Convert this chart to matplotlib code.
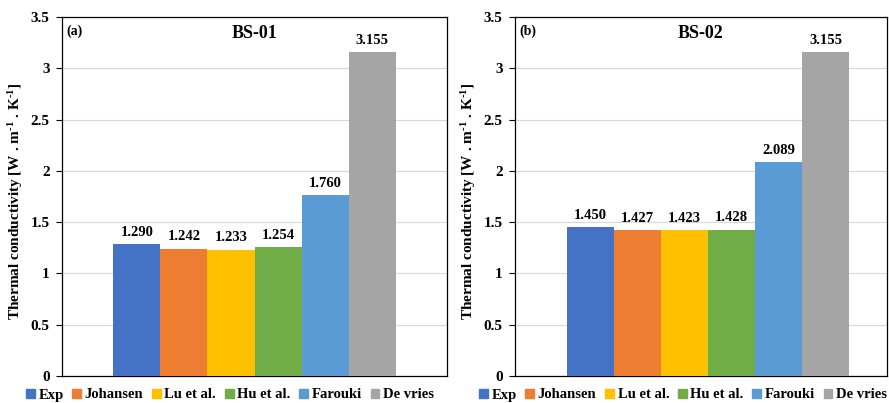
import matplotlib.pyplot as plt
from matplotlib.patches import Patch

plt.rcParams['font.family'] = ['Liberation Serif', 'DejaVu Serif']
plt.rcParams['font.weight'] = 'bold'
plt.rcParams['mathtext.fontset'] = 'custom'
plt.rcParams['mathtext.rm'] = 'Liberation Serif:bold'
plt.rcParams['mathtext.bf'] = 'Liberation Serif:bold'
plt.rcParams['mathtext.default'] = 'bf'

models = ["Exp", "Johansen", "Lu et al.", "Hu et al.", "Farouki", "De vries"]
colors = ["#4472C4", "#ED7D31", "#FFC000", "#70AD47", "#5B9BD5", "#A5A5A5"]
bs01 = [1.290, 1.242, 1.233, 1.254, 1.760, 3.155]
bs02 = [1.450, 1.427, 1.423, 1.428, 2.089, 3.155]
yticks = [0, 0.5, 1, 1.5, 2, 2.5, 3, 3.5]
ytick_labels = ["0", "0.5", "1", "1.5", "2", "2.5", "3", "3.5"]

fig = plt.figure(figsize=(8.89, 4.03), dpi=100)

# axes boxes in pixel coords (left, right), shared bottom/top
W, H = 889, 403
panels = [
    dict(vals=bs01, title="BS-01", tag="(a)", px=(62, 447), xlim=(-1.595, 6.595), legx=230, labx=25),
    dict(vals=bs02, title="BS-02", tag="(b)", px=(515, 887), xlim=(-1.606, 6.31), legx=683, labx=478),
]
bottom, top = 376, 17

for p in panels:
    l, r = p["px"]
    ax = fig.add_axes([l / W, 1 - bottom / H, (r - l) / W, (bottom - top) / H])
    x = range(len(models))
    ax.bar(x, p["vals"], width=1.0, color=colors, zorder=3)
    for xi, v in zip(x, p["vals"]):
        ax.text(xi, v + 0.05, f"{v:.3f}", ha="center", va="bottom",
                fontsize=10.5, fontweight="bold")
    ax.set_xlim(*p["xlim"])
    ax.set_ylim(0, 3.5)
    ax.set_yticks(yticks)
    ax.set_yticklabels(ytick_labels, fontsize=11, fontweight="bold")
    ax.set_xticks([])
    ax.grid(axis="y", color="#D9D9D9", linewidth=0.8, zorder=0)
    ax.tick_params(axis="y", length=4, width=0.8, pad=5)
    for s in ax.spines.values():
        s.set_linewidth(0.9)
    ax.set_title(p["title"], fontsize=13, fontweight="bold", y=0.955, va="center", pad=0)
    ax.text(0.012, 0.96, p["tag"], transform=ax.transAxes, ha="left", va="center",
            fontsize=10, fontweight="bold")
    ax.set_ylabel("Thermal conductivity [W . m$^{\\text{-1}}$ . K$^{\\text{-1}}$]",
                  fontsize=11, fontweight="bold")
    ax.yaxis.set_label_coords(p["labx"] / W, 0.5, transform=fig.transFigure)
    handles = [Patch(color=c, label=m) for c, m in zip(colors, models)]
    fig.legend(handles=handles, loc="center", bbox_to_anchor=(p["legx"] / W, 1 - 395 / H),
               ncol=6, frameon=False, fontsize=10.5, handlelength=0.6, handleheight=0.6,
               handletextpad=0.25, columnspacing=0.6, borderaxespad=0)

fig.savefig("out.png", dpi=100)
